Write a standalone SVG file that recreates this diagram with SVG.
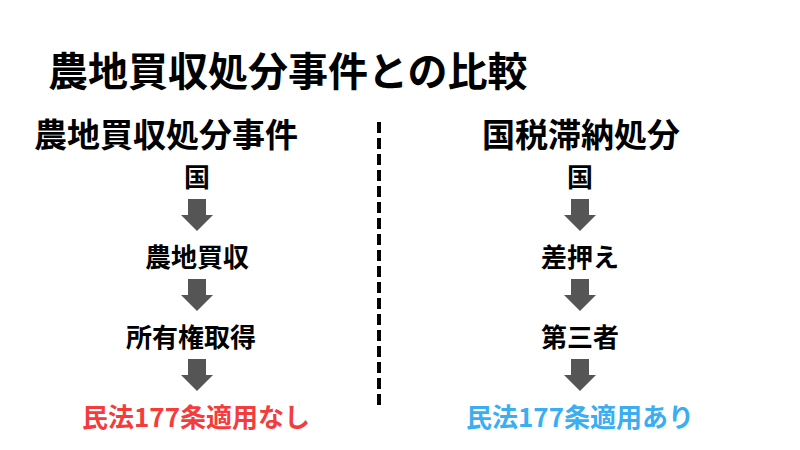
<svg xmlns="http://www.w3.org/2000/svg" width="800" height="450" viewBox="0 0 800 450">
<defs>
<style>
text{font-family:"Noto Sans CJK JP","Noto Sans",sans-serif;font-weight:700;fill:#000}
.title{font-size:40px}
.head{font-size:33px}
.node{font-size:26px;text-anchor:middle}
.red{fill:#f53b3b}
.blue{fill:#3aaef0}
.arrow{fill:#555555}
.divider{stroke:#000;stroke-width:4;stroke-dasharray:11 5;fill:none}
</style>
<path id="arr" d="M-9,0 H9 V16 H16 L0,32 L-16,16 H-9 Z"/>
</defs>
<rect width="800" height="450" fill="#fff"/>
<g id="title"><text class="title" x="48" y="86">農地買収処分事件との比較</text></g>
<g id="divider"><line class="divider" x1="379" y1="122" x2="379" y2="406"/></g>
<g id="left-heading"><text class="head" x="34" y="147">農地買収処分事件</text></g>
<g id="right-heading"><text class="head" x="581" y="147" text-anchor="middle">国税滞納処分</text></g>
<g id="l1"><text class="node" x="197" y="187">国</text></g>
<g id="l2"><text class="node" x="197" y="267">農地買収</text></g>
<g id="l3"><text class="node" x="191" y="347">所有権取得</text></g>
<g id="l4"><text class="node red" x="196" y="427">民法177条適用なし</text></g>
<g id="r1"><text class="node" x="580" y="187">国</text></g>
<g id="r2"><text class="node" x="580" y="267">差押え</text></g>
<g id="r3"><text class="node" x="580" y="347">第三者</text></g>
<g id="r4"><text class="node blue" x="580" y="427">民法177条適用あり</text></g>
<g id="connectors" class="arrow">
<use href="#arr" x="197" y="199"/>
<use href="#arr" x="197" y="279"/>
<use href="#arr" x="197" y="359"/>
<use href="#arr" x="580" y="199"/>
<use href="#arr" x="580" y="279"/>
<use href="#arr" x="580" y="359"/>
</g>
</svg>
